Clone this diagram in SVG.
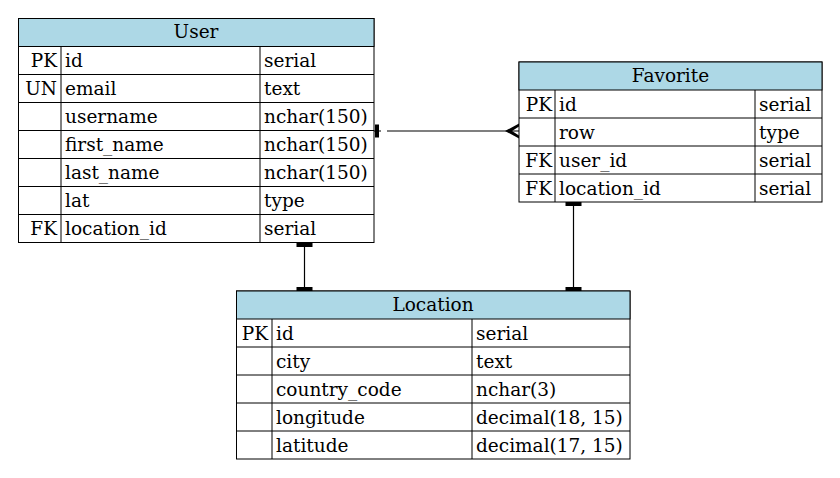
<svg xmlns="http://www.w3.org/2000/svg" width="840" height="478" viewBox="0 0 840 478">
<style>
text{font-family:"DejaVu Serif","Liberation Serif",serif;font-size:18.5px;fill:#000}
.hd{fill:#add8e6;stroke:#000;stroke-width:1}
.bx{fill:#fff;stroke:#000;stroke-width:1}
.ln{stroke:#000;stroke-width:1;fill:none}
.c{text-anchor:middle}
.r{text-anchor:end}
.cn{stroke:#000;stroke-width:1.2;fill:none}
</style>
<rect width="840" height="478" fill="#fff"/>
<g id="User">
<rect class="bx" x="18.5" y="18.5" width="355.5" height="224"/>
<rect class="hd" x="18.5" y="18.5" width="355.5" height="28"/>
<path class="ln" d="M18.5 74.5H374M18.5 102.5H374M18.5 130.5H374M18.5 158.5H374M18.5 186.5H374M18.5 214.5H374M61 46.5V242.5M260 46.5V242.5"/>
<text class="c" x="196" y="38">User</text>
<text class="r" x="57" y="67">PK</text><text x="65" y="67">id</text><text x="264" y="67">serial</text>
<text class="r" x="57" y="95">UN</text><text x="65" y="95">email</text><text x="264" y="95">text</text>
<text x="65" y="123">username</text><text x="264" y="123">nchar(150)</text>
<text x="65" y="151">first_name</text><text x="264" y="151">nchar(150)</text>
<text x="65" y="179">last_name</text><text x="264" y="179">nchar(150)</text>
<text x="65" y="207">lat</text><text x="264" y="207">type</text>
<text class="r" x="57" y="235">FK</text><text x="65" y="235">location_id</text><text x="264" y="235">serial</text>
</g>
<g id="Favorite">
<rect class="bx" x="519" y="62" width="303" height="140"/>
<rect class="hd" x="519" y="62" width="303" height="28"/>
<path class="ln" d="M519 118H822M519 146H822M519 174H822M555 90V202M755 90V202"/>
<text class="c" x="670.5" y="82">Favorite</text>
<text class="r" x="552" y="111">PK</text><text x="559" y="111">id</text><text x="759" y="111">serial</text>
<text x="559" y="139">row</text><text x="759" y="139">type</text>
<text class="r" x="552" y="167">FK</text><text x="559" y="167">user_id</text><text x="759" y="167">serial</text>
<text class="r" x="552" y="195">FK</text><text x="559" y="195">location_id</text><text x="759" y="195">serial</text>
</g>
<g id="Location">
<rect class="bx" x="236.5" y="291" width="393.5" height="168"/>
<rect class="hd" x="236.5" y="291" width="393.5" height="28"/>
<path class="ln" d="M236.5 347H630M236.5 375H630M236.5 403H630M236.5 431H630M272 319V459M472 319V459"/>
<text class="c" x="433" y="311">Location</text>
<text class="r" x="268" y="340">PK</text><text x="276" y="340">id</text><text x="476" y="340">serial</text>
<text x="276" y="368">city</text><text x="476" y="368">text</text>
<text x="276" y="396">country_code</text><text x="476" y="396">nchar(3)</text>
<text x="276" y="424">longitude</text><text x="476" y="424">decimal(18, 15)</text>
<text x="276" y="452">latitude</text><text x="476" y="452">decimal(17, 15)</text>
</g>
<g id="connectors">
<path class="cn" d="M374 131H381M387 131H519"/>
<rect x="375" y="124.5" width="4" height="13" fill="#000"/>
<polygon points="505,131 519,123.5 519,126.5 512,131 519,135.5 519,138.5" fill="#000"/>
<path class="cn" d="M304.5 243V291"/>
<rect x="296.5" y="243" width="16" height="4" fill="#000"/>
<rect x="296.5" y="287" width="16" height="4" fill="#000"/>
<path class="cn" d="M573.5 202V291"/>
<rect x="565.5" y="202" width="16" height="4" fill="#000"/>
<rect x="565.5" y="287" width="16" height="4" fill="#000"/>
</g>
</svg>
